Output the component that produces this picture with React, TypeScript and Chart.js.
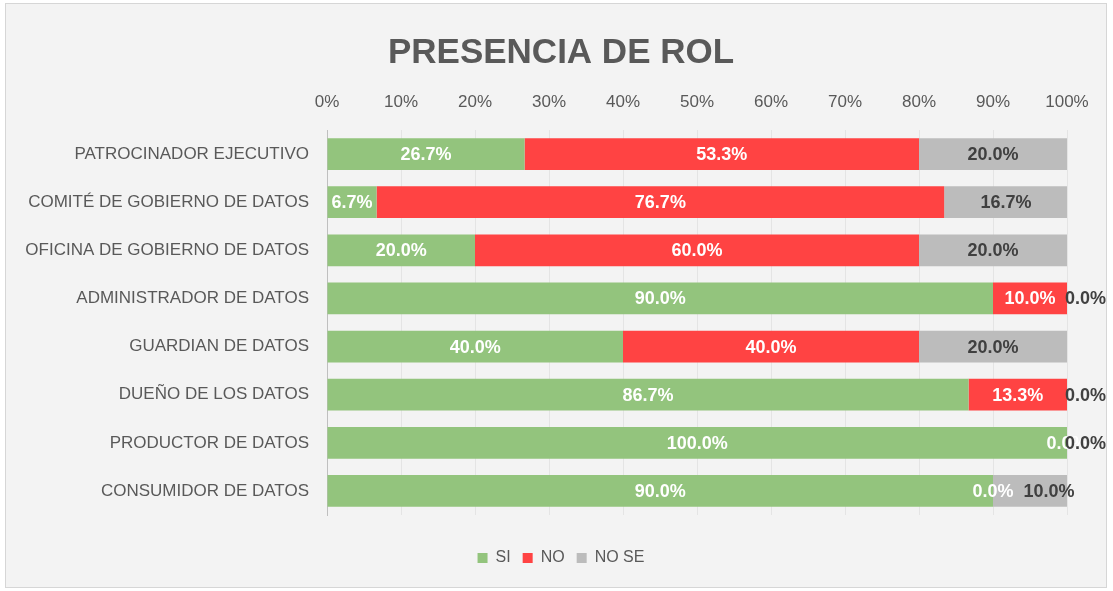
import React, { useEffect, useRef } from "react";
import { Chart, registerables } from "chart.js";

Chart.register(...registerables);

const categories = [
  "PATROCINADOR EJECUTIVO",
  "COMITÉ DE GOBIERNO DE DATOS",
  "OFICINA DE GOBIERNO DE DATOS",
  "ADMINISTRADOR DE DATOS",
  "GUARDIAN DE DATOS",
  "DUEÑO DE LOS DATOS",
  "PRODUCTOR DE DATOS",
  "CONSUMIDOR DE DATOS",
];
const siValues = [26.7, 6.7, 20.0, 90.0, 40.0, 86.7, 100.0, 90.0];
const noValues = [53.3, 76.7, 60.0, 10.0, 40.0, 13.3, 0.0, 0.0];
const noSeValues = [20.0, 16.7, 20.0, 0.0, 20.0, 0.0, 0.0, 10.0];
const seriesNames = ["SI", "NO", "NO SE"];
const xTicks = [0, 10, 20, 30, 40, 50, 60, 70, 80, 90, 100];

const FONT = "'Liberation Sans', Arial, sans-serif";

const backgroundPlugin = {
  id: "bgPanel",
  beforeDraw(chart: any) {
    const { ctx, width, height } = chart;
    ctx.save();
    ctx.fillStyle = "#ffffff";
    ctx.fillRect(0, 0, width, height);
    ctx.fillStyle = "#f3f3f3";
    ctx.fillRect(5, 3, width - 11, height - 6);
    ctx.strokeStyle = "#d6d6d6";
    ctx.lineWidth = 1;
    ctx.strokeRect(5.5, 3.5, width - 12, height - 7);
    ctx.restore();
  },
};

// centre the title and legend on the same band as in the reference
const centerBoxesPlugin = {
  id: "centerBoxes",
  afterLayout(chart: any) {
    const left = 55;
    const right = chart.chartArea.right;
    [chart.titleBlock, chart.legend].forEach((b: any) => {
      if (!b) return;
      b.left = left;
      b.right = right;
      b.width = right - left;
    });
  },
};

const labelPlugin = {
  id: "segLabels",
  afterDatasetsDraw(chart: any) {
    const { ctx } = chart;
    const n = chart.data.labels.length;
    ctx.save();
    ctx.font = `bold 18px ${FONT}`;
    ctx.textBaseline = "middle";
    const last = chart.data.datasets.length - 1;
    for (let i = 0; i < n; i++) {
      let prevEnd = -Infinity;
      chart.data.datasets.forEach((ds: any, d: number) => {
        const el = chart.getDatasetMeta(d).data[i];
        if (!el) return;
        const v = ds.data[i];
        const text = v.toFixed(1) + "%";
        const w = ctx.measureText(text).width;
        const end = Math.max(el.x, el.base);
        const start = Math.min(el.x, el.base);
        let left: number;
        if (v === 0 && d === last) {
          left = end - 2;
        } else {
          left = (start + end) / 2 - w / 2;
          if (left < prevEnd + 8 && prevEnd > -Infinity && v !== 0) {
            left = prevEnd + 10;
          }
        }
        ctx.fillStyle = ds.labelColor;
        ctx.textAlign = "left";
        ctx.fillText(text, left, el.y + 1);
        prevEnd = left + w;
      });
    }
    ctx.restore();
  },
};

export default function App() {
  const ref = useRef<HTMLCanvasElement | null>(null);

  useEffect(() => {
    if (!ref.current) return;
    const chart = new Chart(ref.current, {
      type: "bar",
      data: {
        labels: categories,
        datasets: [
          {
            label: seriesNames[0],
            data: siValues,
            backgroundColor: "#93c47d",
            labelColor: "#ffffff",
          } as any,
          {
            label: seriesNames[1],
            data: noValues,
            backgroundColor: "#ff4343",
            labelColor: "#ffffff",
          } as any,
          {
            label: seriesNames[2],
            data: noSeValues,
            backgroundColor: "#bcbcbc",
            labelColor: "#404040",
          } as any,
        ],
      },
      options: {
        indexAxis: "y",
        animation: false,
        responsive: false,
        maintainAspectRatio: false,
        datasets: {
          bar: {
            barPercentage: 0.66,
            categoryPercentage: 1,
            borderWidth: 0,
          },
        },
        layout: { padding: { left: 0, right: 46, top: 0, bottom: 15 } },
        plugins: {
          tooltip: { enabled: false },
          title: {
            display: true,
            text: "PRESENCIA DE ROL",
            color: "#595959",
            font: { family: FONT, size: 35, weight: "bold" },
            padding: { top: 32, bottom: 0 },
          },
          legend: {
            position: "bottom",
            title: {
              display: true,
              text: "",
              font: { family: FONT, size: 10 },
              padding: { top: 11, bottom: 0 },
            },
            labels: {
              color: "#595959",
              font: { family: FONT, size: 16 },
              boxWidth: 10,
              boxHeight: 10,
              padding: 12,
            },
          },
        },
        scales: {
          x: {
            position: "top",
            stacked: true,
            min: 0,
            max: 100,
            afterBuildTicks: (scale: any) => {
              scale.ticks = xTicks.map((v) => ({ value: v }));
            },
            afterFit: (scale: any) => {
              scale.height = 56;
            },
            ticks: {
              callback: (v: any) => v + "%",
              color: "#595959",
              font: { family: FONT, size: 17 },
              padding: 17,
              maxRotation: 0,
            },
            grid: { color: "#e4e4e4", drawTicks: false },
            border: { display: false },
          },
          y: {
            stacked: true,
            afterFit: (scale: any) => {
              scale.width = 327;
            },
            ticks: {
              color: "#595959",
              font: { family: FONT, size: 17 },
              padding: 18,
            },
            grid: { display: false, drawTicks: false },
            border: { display: true, color: "#bfbfbf", width: 1 },
          },
        },
      } as any,
      plugins: [backgroundPlugin, centerBoxesPlugin, labelPlugin],
    });
    return () => chart.destroy();
  }, []);

  return (
    <div style={{ position: "absolute", left: 0, top: 0, width: 1113, height: 591 }}>
      <canvas ref={ref} width={1113} height={591} style={{ display: "block" }} />
    </div>
  );
}
